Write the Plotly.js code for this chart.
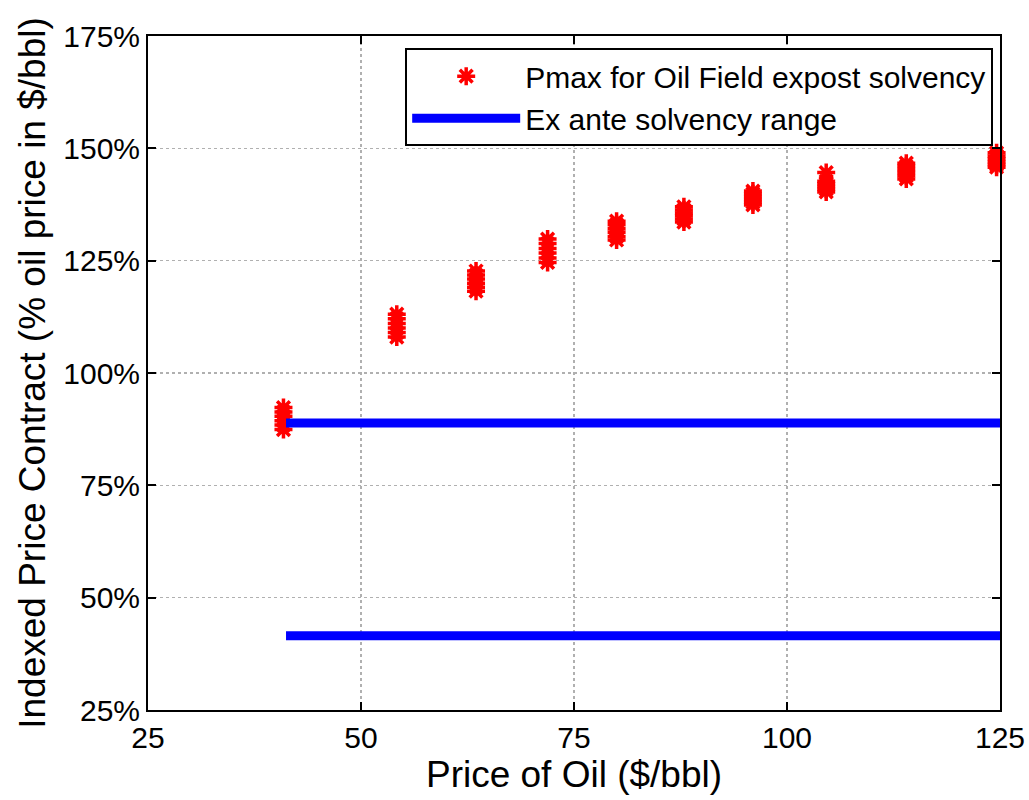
<!DOCTYPE html>
<html>
<head>
<meta charset="utf-8">
<script src="https://cdn.plot.ly/plotly-3.0.1.min.js"></script>
<style>html,body{margin:0;padding:0;background:#fff;}#chart{width:1029px;height:800px;}</style>
</head>
<body>
<div id="chart"></div>
<script>
// Oil price levels ($/bbl) at which Pmax was computed (each cluster of stars)
var oilPrice = [
  40.9, 40.9, 40.9, 40.9, 40.9, 40.9,
  54.2, 54.2, 54.2, 54.2, 54.2, 54.2,
  63.5, 63.5, 63.5, 63.5, 63.5, 63.5,
  71.9, 71.9, 71.9, 71.9, 71.9, 71.9,
  80.0, 80.0, 80.0, 80.0, 80.0, 80.0,
  87.9, 87.9, 87.9, 87.9, 87.9, 87.9,
  96.0, 96.0, 96.0, 96.0, 96.0, 96.0,
  104.6, 104.6, 104.6, 104.6, 104.6, 104.6,
  114.0, 114.0, 114.0, 114.0, 114.0, 114.0,
  124.6, 124.6, 124.6, 124.6, 124.6, 124.6
];
// Pmax for oil field ex-post solvency (% of oil price)
var pmax = [
  87.4, 88.4, 89.4, 90.4, 91.3, 92.3,
  108.0, 109.0, 110.0, 111.0, 112.1, 113.1,
  118.2, 119.1, 120.0, 120.9, 121.8, 122.7,
  124.6, 125.6, 126.7, 127.7, 128.8, 129.8,
  129.6, 130.4, 131.3, 132.1, 133.0, 133.8,
  133.6, 134.3, 135.0, 135.6, 136.3, 137.0,
  137.4, 138.0, 138.6, 139.3, 139.9, 140.5,
  140.3, 140.9, 141.5, 142.1, 142.7, 144.6,
  143.2, 143.9, 144.6, 145.3, 146.0, 146.7,
  145.8, 146.4, 147.0, 147.7, 148.3, 149.0
];
// Ex ante solvency range bounds
var rangeX = [41.2, 125];
var upperBound = [88.9, 88.9];
var lowerBound = [41.5, 41.5];

var xTicks = [25, 50, 75, 100, 125];
var yTicks = [25, 50, 75, 100, 125, 150, 175];

var lineX = rangeX.concat([null]).concat(rangeX);
var lineY = upperBound.concat([null]).concat(lowerBound);

var FONT = 'Liberation Sans, Arial, sans-serif';

var traces = [
  {
    x: oilPrice, y: pmax, type: 'scatter', mode: 'markers',
    name: 'Pmax for Oil Field expost solvency',
    marker: {symbol: 'asterisk-open', size: 15, color: '#ff0000', line: {color: '#ff0000', width: 3.5}},
    cliponaxis: false
  },
  {
    x: lineX, y: lineY, type: 'scatter', mode: 'lines',
    name: 'Ex ante solvency range',
    line: {color: '#0000ff', width: 9},
    connectgaps: false, cliponaxis: false
  }
];

var axisCommon = {
  showline: true, mirror: 'ticks', linecolor: '#000', linewidth: 2,
  ticks: 'inside', ticklen: 8, tickwidth: 2, tickcolor: '#000',
  showgrid: true, gridcolor: '#b0b0b0', griddash: 'dot', gridwidth: 1.5,
  zeroline: false,
  tickfont: {family: FONT, size: 30, color: '#000'}
};

var layout = {
  width: 1029, height: 800,
  margin: {l: 148, r: 29, t: 36, b: 90},
  paper_bgcolor: '#fff', plot_bgcolor: '#fff',
  font: {family: FONT, color: '#000'},
  showlegend: true,
  legend: {
    x: 0.992, xanchor: 'right', y: 0.982, yanchor: 'top',
    bgcolor: '#fff', bordercolor: '#000', borderwidth: 2,
    font: {family: FONT, size: 30, color: '#000'},
    itemwidth: 108, tracegroupgap: 4
  },
  xaxis: Object.assign({}, axisCommon, {
    range: [25, 125], tickvals: xTicks, ticktext: xTicks.map(String),
    title: {text: 'Price of Oil ($/bbl)', font: {family: FONT, size: 37, color: '#000'}, standoff: 4}
  }),
  yaxis: Object.assign({}, axisCommon, {
    range: [25, 175], tickvals: yTicks, ticktext: yTicks.map(function(v){return v + '%';}),
    title: {text: 'Indexed Price Contract (% oil price in $/bbl)', font: {family: FONT, size: 37, color: '#000'}, standoff: 6}
  })
};

Plotly.newPlot('chart', traces, layout, {staticPlot: true, displayModeBar: false});
</script>
</body>
</html>
